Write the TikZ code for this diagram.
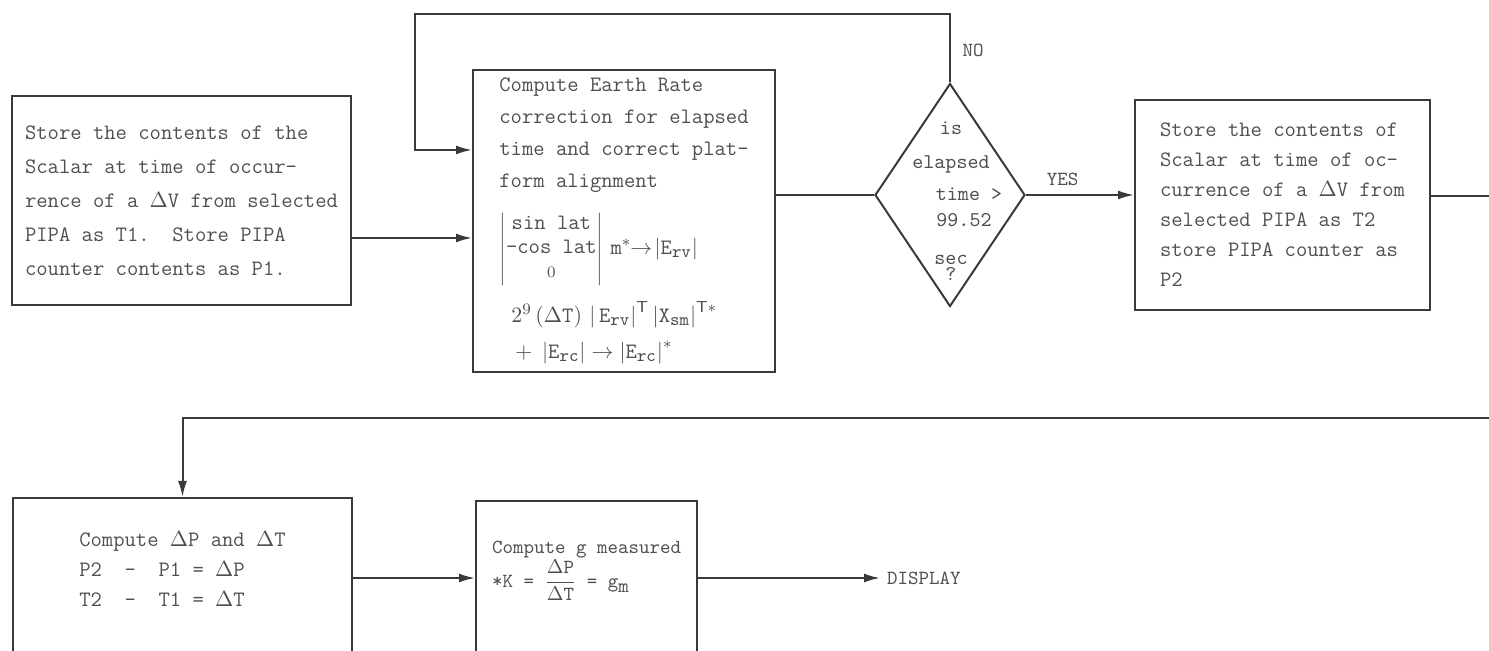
\documentclass[tikz,border=0pt]{standalone}
\usetikzlibrary{arrows.meta,shapes.geometric}
\definecolor{ink}{HTML}{3A3A3A}
\definecolor{typed}{HTML}{4F4F4F}
\begin{document}
\begin{tikzpicture}[x=0.5pt,y=-0.5pt,
  box/.style={draw=ink,line width=1pt,text=typed,align=left,inner sep=0pt,
    font={\ttfamily\fontsize{11}{15}\selectfont}},
  decision/.style={draw=ink,line width=1pt,diamond,inner sep=0pt,
    minimum width=75pt,minimum height=111.5pt},
  lbl/.style={text=typed,font={\ttfamily\fontsize{10}{14}\selectfont}},
  wire/.style={draw=ink,line width=1pt},
  flow/.style={wire,-{Latex[length=8pt,width=4.5pt]}}]
\useasboundingbox (0,0) rectangle (1489,651);
\clip (0,0) rectangle (1489,651);

% top row
\node[box,minimum width=169.5pt,minimum height=104.5pt,
  font={\ttfamily\fontsize{11}{17}\selectfont}] (store1) at (181.5,200.5)
  {Store the contents of the\\Scalar at time of occur-\\rence of a $\Delta$V from selected\\PIPA as T1.\ \ Store PIPA\\counter contents as P1.};
\node[box,minimum width=151pt,minimum height=151pt,
  font={\ttfamily\fontsize{11}{16}\selectfont}] (earth) at (624,221)
  {Compute Earth Rate\\correction for elapsed\\time and correct plat-\\form alignment\\[9pt]
  $\def\arraystretch{0.75}\left|\begin{array}{@{}c@{}}\mbox{sin lat}\\\mbox{-cos lat}\\{\scriptstyle 0}\end{array}\right|\,\mbox{m}^{*}\!\!\rightarrow\!\left|\mbox{E}_{\mbox{\small rv}}\right|$\\[7pt]
  \hspace*{6pt}$2^{9}\,(\Delta\mbox{T})\,\left|\,\mbox{E}_{\mbox{\small rv}}\right|^{\mathsf{T}}\left|\mbox{X}_{\mbox{\small sm}}\right|^{\mathsf{T}*}$\\[2pt]
  \hspace*{8pt}$+\;\left|\mbox{E}_{\mbox{\small rc}}\right|\rightarrow\left|\mbox{E}_{\mbox{\small rc}}\right|^{*}$};
\node[decision] (test) at (950,195) {};
\node[lbl,align=center,font={\ttfamily\fontsize{10.5}{14}\selectfont}] (testtxt) at (951,201)
  {is\\[3pt]elapsed\\[2pt]\hspace*{18pt}time >\\[-1pt]\hspace*{13pt}99.52\\[5pt]sec\\[-6pt]?};
\node[box,minimum width=147.5pt,minimum height=105pt] (store2) at (1282.5,205)
  {Store the contents of\\Scalar at time of oc-\\currence of a $\Delta$V from\\selected PIPA as T2\\store PIPA counter as\\P2};
\node[lbl] (no) at (973,50) {NO};
\coordinate (exit) at (1489,196);

% bottom row
\node[box,anchor=north,minimum width=169.5pt,inner ysep=17pt,text depth=70pt] (comp) at (182.5,497)
  {Compute $\Delta$P and $\Delta$T\\P2~~-~~P1 = $\Delta$P\\T2~~-~~T1 = $\Delta$T};
\node[box,anchor=north,minimum width=110.5pt,inner ysep=20pt,text depth=70pt,
  font={\ttfamily\fontsize{10}{15}\selectfont}] (gcalc) at (586.5,500)
  {Compute g measured\\*K = $\displaystyle\frac{\Delta\mbox{P}}{\Delta\mbox{T}}$ = $\mbox{g}_{\mbox{m}}$};
\node[lbl,anchor=west] (display) at (880,578) {DISPLAY};
\coordinate (back) at (1489,418);
\coordinate (row) at (0,578);

% connectors
\coordinate (in1) at ([yshift=-18.75pt]store1.east);
\draw[flow] (in1) -- (in1 -| earth.west);
\draw[wire] (earth.east |- test.west) -- (test.west);
\draw[flow] (test.north) |- (415,14) |- (earth.west |- 0,150);
\draw[flow] (test.east) -- (test.east -| store2.west)
  node[lbl,pos=0.34,above=1pt] (yes) {YES};
\draw[wire] (exit -| store2.east) -- (exit);
\draw[flow] (back) -| (comp.north);
\draw[flow] (comp.east |- row) -- (gcalc.west |- row);
\draw[flow] (gcalc.east |- row) -- (display.west);
\end{tikzpicture}
\end{document}
